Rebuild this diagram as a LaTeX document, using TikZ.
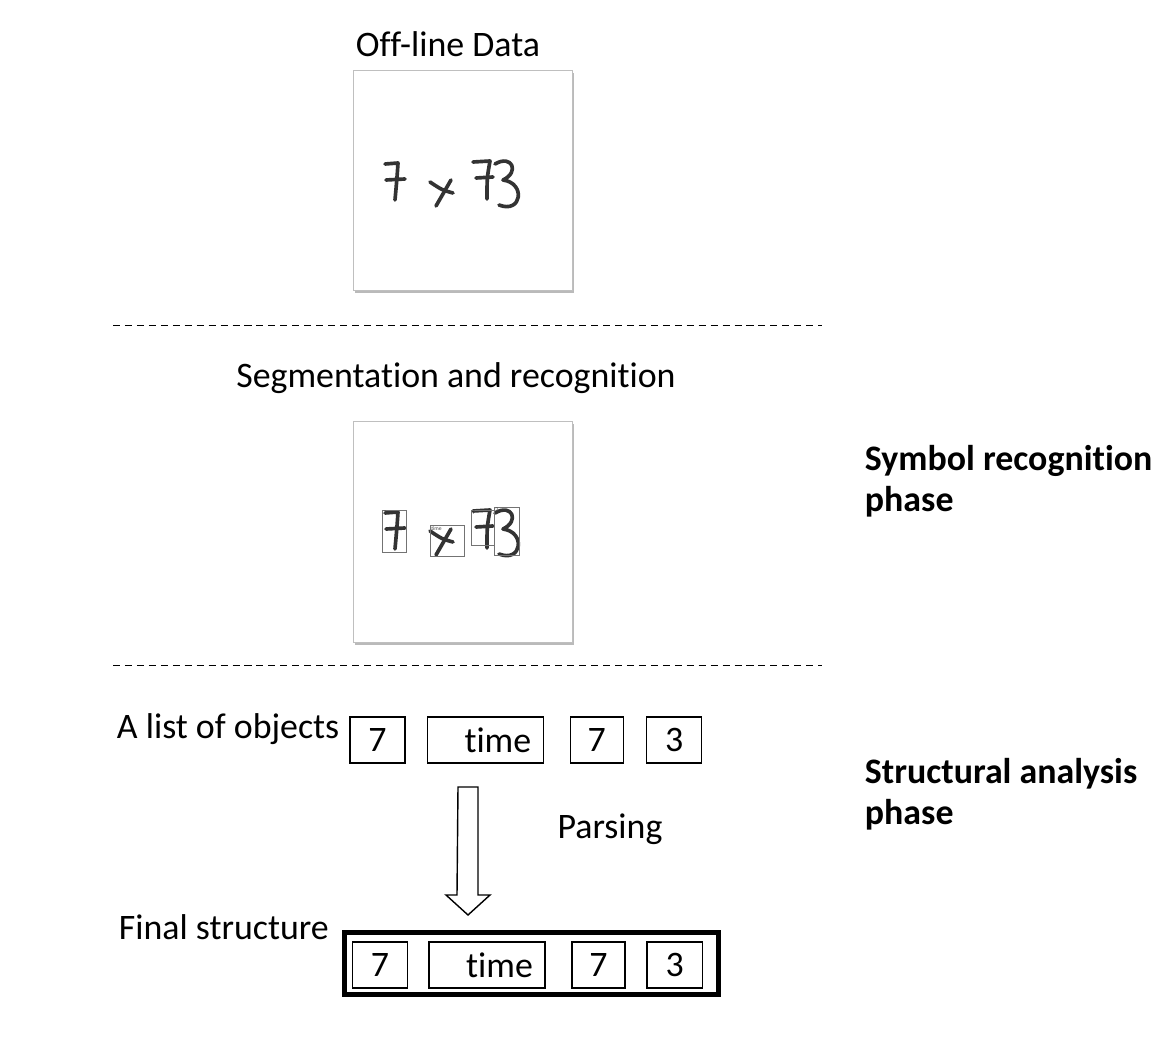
\documentclass[tikz,border=0pt]{standalone}
\usepackage{fontspec}
\setmainfont{Carlito}[RawFeature={-liga;-clig;-dlig;-rlig;-calt;-hlig}]
\usepackage{tikz}
\usetikzlibrary{positioning}
\usetikzlibrary{shadows}

\newcommand{\handsum}{%
  \draw[hand] (385,164) -- (398,163) .. controls (397,178) .. (395,200);
  \draw[hand] (386,180) -- (405,179);
  \draw[hand] (430,182) .. controls (442,190) .. (453,193);
  \draw[hand] (451,180) -- (436,206);
  \draw[hand] (473,162) -- (490,161) .. controls (487,178) .. (487,199);
  \draw[hand] (476,178) -- (493,177);
  \draw[hand] (495,164) .. controls (512,154) and (520,172) .. (503,180)
    .. controls (526,183) and (522,214) .. (499,205);
}

\begin{document}
\begin{tikzpicture}[x=0.025cm, y=-0.025cm,
  font=\fontsize{25.5}{29.2}\selectfont,
  card/.style={draw=black!25, fill=white, drop shadow={shadow xshift=1.2pt, shadow yshift=-2.2pt, opacity=0.45, fill=black!60}},
  hand/.style={draw=black!80, line width=2.6pt, line cap=round, line join=round},
  segbox/.style={draw=black!55, line width=0.5pt},
  tinylbl/.style={font=\fontsize{4}{4}\selectfont, inner sep=0pt, anchor=north west, text=black!70},
  dashline/.style={dash pattern=on 5pt off 3.5pt, line width=0.7pt},
  objbox/.style={draw, line width=1pt, minimum width=1.375cm, minimum height=1.15cm, inner sep=0pt},
  timebox/.style={objbox, text width=2.3cm, inner xsep=0.3cm, align=right},
  phase/.style={font=\fontsize{25.5}{29.2}\selectfont\bfseries, align=left, anchor=west}]

  \useasboundingbox (0,0) rectangle (1166,1050);

  \node (offline) at (448,44) {Off-line Data};
  \filldraw[card] (353,70) rectangle (572,290);
  \handsum

  \draw[dashline] (113,325) -- (822,325);

  \node (segrec) at (456,378) {Segmentation and recognition};
  \filldraw[card] (353,421) rectangle (572,642);
  \begin{scope}[yshift=-349*0.025cm]
    \handsum
  \end{scope}
  \draw[segbox] (382,510) rectangle (406,552);
  \draw[segbox] (430,525) rectangle (464,556);
  \draw[segbox] (471,510) rectangle (494,545);
  \draw[segbox] (494,507) rectangle (519,555);
  \node[tinylbl] (l1) at (383,511) {7};
  \node[tinylbl] (l2) at (431,526) {time};
  \node[tinylbl] (l3) at (472,511) {7};
  \node[tinylbl] (l4) at (495,508) {3};

  \node[phase] (symph) at (860,481) {Symbol recognition\\phase};

  \draw[dashline] (113,665) -- (822,665);

  \node[anchor=west] (alist) at (112,729) {A list of objects};
  \node[objbox] (o1) at (377.5,740) {7};
  \node[timebox, right=0.52cm of o1] (o2) {time};
  \node[objbox, minimum width=1.325cm, right=0.64cm of o2] (o3) {7};
  \node[objbox, right=0.55cm of o3] (o4) {3};

  \node[phase] (strph) at (860,794) {Structural analysis\\phase};

  \coordinate (atop) at (468,787);
  \coordinate (atip) at (468,915);
  \draw[line width=1pt, line join=miter] (atop) ++(-10,0) -- ++(20,0) -- ++(0,108) -- ++(12,0)
    -- (atip) -- ++(-22,-20) -- ++(11,0) -- cycle;
  \node (parsing) at (610,829) {Parsing};

  \node[anchor=west] (final) at (114,927) {Final structure};
  \node[draw, line width=3.5pt, minimum width=9.35cm, minimum height=1.55cm, inner sep=0pt] (frame) at (531.5,963.5) {};
  \node[objbox] (f1) at (380,965) {7};
  \node[timebox, right=0.5cm of f1] (f2) {time};
  \node[objbox, minimum width=1.325cm, right=0.64cm of f2] (f3) {7};
  \node[objbox, right=0.52cm of f3] (f4) {3};

\end{tikzpicture}
\end{document}
